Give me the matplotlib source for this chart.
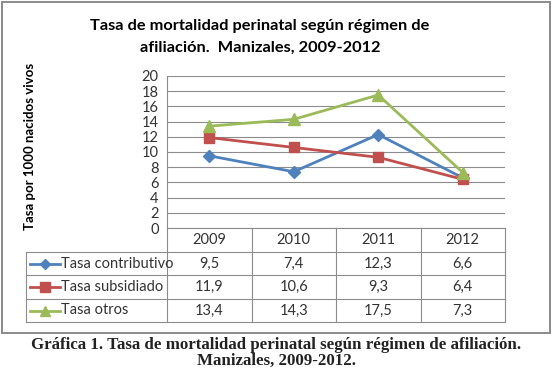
import matplotlib.pyplot as plt
from matplotlib.patches import Rectangle
from matplotlib.lines import Line2D
import matplotlib.transforms as mtransforms

years = ['2009', '2010', '2011', '2012']
series_names = ['Tasa contributivo', 'Tasa subsidiado', 'Tasa otros']
contributivo = [9.5, 7.4, 12.3, 6.6]
subsidiado = [11.9, 10.6, 9.3, 6.4]
otros = [13.4, 14.3, 17.5, 7.3]
yticks = [0, 2, 4, 6, 8, 10, 12, 14, 16, 18, 20]

W, H = 553, 373
colors = ['#4F81BD', '#C0504D', '#9BBB59']
markers = ['D', 's', '^']
msizes = [6.5, 7.5, 8]
values = [contributivo, subsidiado, otros]

fig = plt.figure(figsize=(W / 100, H / 100), dpi=100)
fig.patch.set_facecolor('white')

# outer chart frame
fig.add_artist(Rectangle((2 / W, 1 - 333 / H), 548 / W, 331 / H, transform=fig.transFigure,
                         fill=False, edgecolor='#8a8a8a', linewidth=1.4))

# plot area in pixels
L, R, T, B = 167, 505, 76, 228
ax = fig.add_axes([L / W, 1 - B / H, (R - L) / W, (B - T) / H])
x = list(range(len(years)))
for vals, c, m, ms in zip(values, colors, markers, msizes):
    ax.plot(x, vals, color=c, linewidth=2.0, marker=m, markersize=ms,
            markerfacecolor=c, markeredgecolor=c, clip_on=False, zorder=3)

ax.set_xlim(-0.5, 3.5)
ax.set_ylim(0, 20)
ax.set_yticks(yticks)
ax.set_yticklabels([str(v) for v in yticks], fontfamily='Lato', fontsize=10.5)
ax.set_xticks([])
ax.grid(axis='y', color='#8c8c8c', linewidth=0.8)
ax.set_axisbelow(True)
for s in ['top', 'right', 'bottom']:
    ax.spines[s].set_visible(False)
ax.spines['left'].set_color('#8c8c8c')
ax.tick_params(axis='y', length=0, pad=6, colors='#333333')

# data table below the plot
trans_dx = mtransforms.blended_transform_factory(ax.transData, ax.transAxes)
ph = B - T
rows_px = [228, 252, 275, 299, 322]
rows = [-(r - B) / ph for r in rows_px]
grid_kw = dict(color='#8c8c8c', linewidth=0.8, clip_on=False)
label_left = (26 - L) / (R - L)

for i, r in enumerate(rows):
    if i == 0:
        ax.plot([-0.5, 3.5], [r, r], transform=trans_dx, **grid_kw)
    else:
        ax.plot([label_left, 1], [r, r], transform=ax.transAxes, **grid_kw)
for xb in [-0.5, 0.5, 1.5, 2.5, 3.5]:
    ax.plot([xb, xb], [rows[0], rows[-1]], transform=trans_dx, **grid_kw)
ax.plot([label_left, label_left], [rows[1], rows[-1]], transform=ax.transAxes, **grid_kw)

tkw = dict(fontfamily='Lato', fontsize=10.5, color='#333333', va='center', ha='center')
for j, yr in enumerate(years):
    ax.text(j, (rows[0] + rows[1]) / 2, yr, transform=trans_dx, **tkw)
for i, (name, vals) in enumerate(zip(series_names, values)):
    yc = (rows[i + 1] + rows[i + 2]) / 2
    for j, v in enumerate(vals):
        ax.text(j, yc, f'{v:.1f}'.replace('.', ','), transform=trans_dx, **tkw)
    lx0 = (30 - L) / (R - L)
    lx1 = (60 - L) / (R - L)
    ax.add_line(Line2D([lx0, lx1], [yc, yc], transform=ax.transAxes, color=colors[i],
                       linewidth=2.0, clip_on=False))
    ax.add_line(Line2D([(lx0 + lx1) / 2], [yc], transform=ax.transAxes, color=colors[i],
                       marker=markers[i], markersize=msizes[i] - 1, clip_on=False))
    ax.text((61 - L) / (R - L), yc, name, transform=ax.transAxes,
            fontfamily='Lato', fontsize=10.5, color='#333333', va='center', ha='left')

# titles
fig.text(260 / W, 1 - 26 / H, 'Tasa de mortalidad perinatal según régimen de',
         ha='center', va='center', fontfamily='Lato', fontweight='bold', fontsize=11.8)
fig.text(260 / W, 1 - 48 / H, 'afiliación.  Manizales, 2009-2012',
         ha='center', va='center', fontfamily='Lato', fontweight='bold', fontsize=11.8)
fig.text(30 / W, 1 - 146 / H, 'Tasa por 1000 nacidos vivos', rotation=90,
         ha='center', va='center', fontfamily='Lato', fontweight='bold', fontsize=9.5)

# caption
fig.text(0.5, 1 - 345 / H, 'Gráfica 1. Tasa de mortalidad perinatal según régimen de afiliación.',
         ha='center', va='center', fontfamily='Liberation Serif', fontweight='bold',
         fontsize=12.2, color='#222222')
fig.text(0.5, 1 - 361 / H, 'Manizales, 2009-2012.',
         ha='center', va='center', fontfamily='Liberation Serif', fontweight='bold',
         fontsize=12.2, color='#222222')

fig.savefig('out.png', dpi=100)
